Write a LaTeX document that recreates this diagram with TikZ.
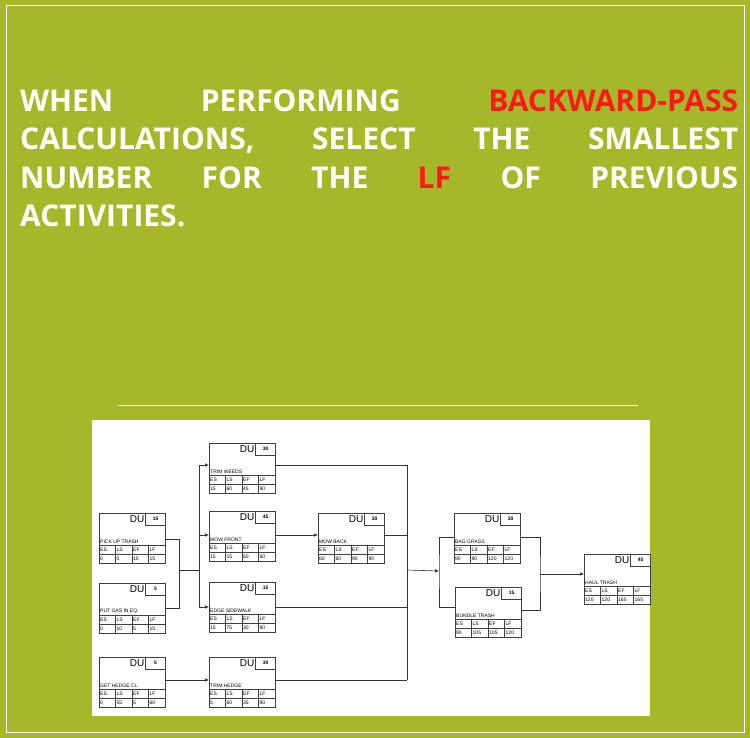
\documentclass[tikz,border=0pt]{standalone}
\usepackage{fontspec}
\setmainfont{Liberation Sans}
\newfontfamily\titlefont{Open Sans}[UprightFont=* Bold]
\usetikzlibrary{arrows.meta}
\definecolor{olive}{HTML}{A6B82A}
\definecolor{hred}{HTML}{FF1A1A}
\tikzset{
  conn/.style={draw=black!80,line width=0.6pt},
  arr/.style={conn,-{Latex[length=4pt,width=3.5pt]}},
  actbox/.style={draw=black!75,line width=0.6pt,minimum width=66pt,minimum height=50pt,inner sep=0pt,anchor=north west},
}
\newcommand{\actbox}[9]{%
  \node[actbox] (#1) at (#2,#3) {};
  \draw[black!75,line width=0.5pt] ([xshift=-20pt]#1.north east) rectangle ([yshift=-12pt]#1.north east);
  \node[font=\fontsize{5}{5}\selectfont\bfseries,anchor=center] at ([xshift=-10pt,yshift=-6pt]#1.north east) {#4};
  \node[font=\fontsize{10}{10}\selectfont,anchor=east,inner sep=1pt] at ([xshift=-20pt,yshift=-6pt]#1.north east) {DU};
  \node[font=\fontsize{5}{5}\selectfont,anchor=south west,inner sep=1pt] at ([yshift=-32pt]#1.north west) {#5};
  \draw[black!75,line width=0.5pt] ([yshift=-32pt]#1.north west) -- ([yshift=-32pt]#1.north east)
     ([yshift=-41pt]#1.north west) -- ([yshift=-41pt]#1.north east);
  \foreach \i in {1,2,3} \draw[black!75,line width=0.5pt] ([xshift=\i*16.5pt,yshift=-32pt]#1.north west) -- ([xshift=\i*16.5pt]#1.south west);
  \foreach \t [count=\i from 0] in {ES,LS,EF,LF}
    \node[font=\fontsize{5}{5}\selectfont,anchor=west,inner sep=1pt] at ([xshift=\i*16.5pt,yshift=-36.5pt]#1.north west) {\t};
  \foreach \t [count=\i from 0] in {#6,#7,#8,#9}
    \node[font=\fontsize{5}{5}\selectfont,anchor=west,inner sep=1pt] at ([xshift=\i*16.5pt,yshift=-45.5pt]#1.north west) {\t};
}
\begin{document}
\begin{tikzpicture}[x=1pt,y=-1pt]
\useasboundingbox (0,0) rectangle (750,738);
\fill[olive] (0,0) rectangle (750,738);
\draw[white,line width=1pt] (6,6) rectangle (744,732);
\foreach \t/\yy in {{WHEN PERFORMING \textcolor{hred}{BACKWARD-PASS}}/112,{CALCULATIONS, SELECT THE SMALLEST}/150,{NUMBER FOR THE \textcolor{hred}{LF} OF PREVIOUS}/189}
  \node[anchor=base west,inner sep=0pt,text=white,font=\titlefont\fontsize{30}{38}\selectfont] at (20,\yy) {\makebox[718pt][s]{\t}};
\node[anchor=base west,inner sep=0pt,text=white,font=\titlefont\fontsize{30}{38}\selectfont] at (20,227) {ACTIVITIES.};
\draw[white!85!olive,line width=0.8pt] (118,405) -- (638,405);
\fill[white] (92,420) rectangle (650,716);
\actbox{pick}{99}{513}{15}{PICK UP TRASH}{0}{0}{15}{15}
\actbox{gas}{99}{583}{5}{PUT GAS IN EQ.}{0}{10}{5}{15}
\actbox{hedgecl}{99}{657}{5}{GET HEDGE CL.}{0}{55}{5}{60}
\actbox{weeds}{209}{443}{30}{TRIM WEEDS}{15}{60}{45}{90}
\actbox{front}{209}{511}{45}{MOW FRONT}{15}{15}{60}{60}
\actbox{edge}{209}{582}{15}{EDGE SIDEWALK}{15}{75}{30}{90}
\actbox{thedge}{209}{657}{30}{TRIM HEDGE}{5}{60}{35}{90}
\actbox{back}{318}{513}{30}{MOW BACK}{60}{60}{90}{90}
\actbox{bag}{454}{513}{30}{BAG GRASS}{90}{90}{120}{120}
\actbox{bundle}{455}{587}{15}{BUNDLE TRASH}{90}{105}{105}{120}
\actbox{haul}{584}{554}{45}{HAUL TRASH}{120}{120}{165}{165}
\coordinate (j1) at (179,570);
\coordinate (f1) at (199,570);
\coordinate (j2) at (407,570);
\coordinate (f2) at (439,571);
\coordinate (j3) at (540,574);
\draw[conn] ([yshift=-26pt]pick.north east) -| (j1);
\draw[conn] ([yshift=-25pt]gas.north east) -| (j1) -- (f1);
\draw[conn] (199,465) -- (199,607);
\draw[arr] (199,465) -- ([yshift=-22pt]weeds.north west);
\draw[arr] (199,535) -- ([yshift=-24pt]front.north west);
\draw[arr] (199,607) -- ([yshift=-25pt]edge.north west);
\draw[arr] ([yshift=-23pt]hedgecl.north east) -- ([yshift=-23pt]thedge.north west);
\draw[arr] ([yshift=-24pt]front.north east) -- ([yshift=-22pt]back.north west);
\draw[conn] ([yshift=-22pt]weeds.north east) -| (407,680);
\draw[conn] ([yshift=-22pt]back.north east) -- (407,535);
\draw[conn] ([yshift=-25pt]edge.north east) -- (407,607);
\draw[conn] ([yshift=-23pt]thedge.north east) -- (407,680);
\draw[arr] (j2) -- (f2);
\draw[conn] ([yshift=-24pt]bag.north west) -| (f2) |- ([yshift=-20pt]bundle.north west);
\draw[conn] ([yshift=-24pt]bag.north east) -| (j3) |- ([yshift=-23pt]bundle.north east);
\draw[arr] (j3) -- ([yshift=-20pt]haul.north west);
\end{tikzpicture}
\end{document}
